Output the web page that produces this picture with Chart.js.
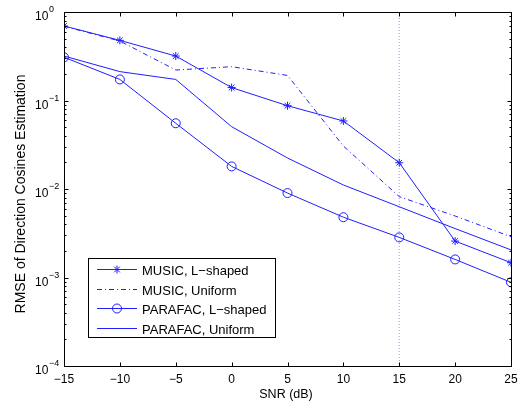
<!DOCTYPE html>
<html>
<head>
<meta charset="utf-8">
<script src="https://cdn.jsdelivr.net/npm/chart.js@4/dist/chart.umd.min.js"></script>
<style>
  html, body { margin: 0; padding: 0; background: #fff; }
</style>
</head>
<body>
<canvas id="rmseChart" width="524" height="405"></canvas>
<script>
// data
const snr = [-15, -10, -5, 0, 5, 10, 15, 20, 25];
const musicL = [0.695, 0.478, 0.318, 0.140, 0.0873, 0.0587, 0.0198, 0.00258, 0.00147];
const musicU = [0.69, 0.47, 0.221, 0.241, 0.192, 0.0306, 0.0082, 0.00495, 0.00289];
const parafacL = [0.308, 0.173, 0.0553, 0.018, 0.009, 0.0048, 0.00284, 0.0016, 0.000883];
const parafacU = [0.318, 0.212, 0.173, 0.0506, 0.0224, 0.0111, 0.0063, 0.00357, 0.00205];
const xTicks = [-15, -10, -5, 0, 5, 10, 15, 20, 25];
const yExps = [-4, -3, -2, -1, 0];
const markLine = 15; // vertical dotted line

const FONT = "'Liberation Sans', Arial, Helvetica, sans-serif";
const BLUE = "rgb(30,30,255)";

function pts(vals) {
  return snr.map((x, i) => ({ x: x, y: vals[i] }));
}

// box, inward ticks, labels, legend (matlab look)
const matlabAxes = {
  id: "matlabAxes",
  afterDraw(chart) {
    const ctx = chart.ctx;
    const a = chart.chartArea;
    const xs = chart.scales.x;
    const ys = chart.scales.y;
    const L = Math.round(a.left) + 0.5, R = Math.round(a.right) + 0.5;
    const T = Math.round(a.top) + 0.5, B = Math.round(a.bottom) + 0.5;
    ctx.save();
    ctx.strokeStyle = "#000";
    ctx.lineWidth = 1;
    ctx.strokeRect(L, T, R - L, B - T);

    ctx.beginPath();
    xTicks.forEach(v => {
      const px = Math.round(xs.getPixelForValue(v)) + 0.5;
      ctx.moveTo(px, B); ctx.lineTo(px, B - 4);
      ctx.moveTo(px, T); ctx.lineTo(px, T + 4);
    });
    yExps.forEach(e => {
      const py = Math.round(ys.getPixelForValue(Math.pow(10, e))) + 0.5;
      ctx.moveTo(L, py); ctx.lineTo(L + 4, py);
      ctx.moveTo(R, py); ctx.lineTo(R - 4, py);
      if (e < 0) {
        for (let m = 2; m <= 9; m++) {
          const pm = Math.round(ys.getPixelForValue(m * Math.pow(10, e))) + 0.5;
          ctx.moveTo(L, pm); ctx.lineTo(L + 2, pm);
          ctx.moveTo(R, pm); ctx.lineTo(R - 2, pm);
        }
      }
    });
    ctx.stroke();

    ctx.fillStyle = "#000";
    ctx.font = "12px " + FONT;
    ctx.textAlign = "center";
    ctx.textBaseline = "alphabetic";
    xTicks.forEach(v => {
      const px = xs.getPixelForValue(v);
      ctx.fillText(String(v).replace("-", "\u2212"), px, 383);
    });

    yExps.forEach(e => {
      const py = ys.getPixelForValue(Math.pow(10, e));
      ctx.textAlign = "left";
      ctx.font = "12px " + FONT;
      ctx.fillText("10", 35, py + 8);
      ctx.font = "9px " + FONT;
      ctx.fillText(String(e).replace("-", "\u2212"), 49, py);
    });

    ctx.font = "12.5px " + FONT;
    ctx.textAlign = "center";
    ctx.fillText("SNR (dB)", 286, 398);
    ctx.save();
    ctx.translate(25, 194);
    ctx.rotate(-Math.PI / 2);
    ctx.font = "14px " + FONT;
    ctx.fillText("RMSE of Direction Cosines Estimation", 0, 0);
    ctx.restore();

    // legend
    const bx = 88.5, by = 258.5, bw = 187, bh = 79;
    ctx.fillStyle = "#fff";
    ctx.fillRect(bx, by, bw, bh);
    ctx.strokeStyle = "#000";
    ctx.strokeRect(bx, by, bw, bh);
    const items = chart.data.datasets.filter(d => d.label);
    items.forEach((d, i) => {
      const y = Math.round(269 + i * 19.5) + 0.5;
      ctx.strokeStyle = d.borderColor;
      ctx.lineWidth = 1;
      ctx.setLineDash(d.borderDash || []);
      ctx.beginPath();
      ctx.moveTo(97, y); ctx.lineTo(137, y);
      ctx.stroke();
      ctx.setLineDash([]);
      if (d.pointRadius > 0) {
        ctx.fillStyle = "rgba(0,0,0,0)";
        Chart.helpers.drawPoint(ctx, {
          pointStyle: d.pointStyle, radius: d.pointRadius,
          borderWidth: 1, rotation: 0
        }, 117, y);
      }
      ctx.fillStyle = "#000";
      ctx.font = "13px " + FONT;
      ctx.textAlign = "left";
      ctx.fillText(d.label, 142, y + 5);
    });
    ctx.restore();
  }
};

const line = (label, vals, extra) => Object.assign({
  label: label,
  data: pts(vals),
  borderColor: BLUE,
  backgroundColor: "rgba(0,0,0,0)",
  borderWidth: 1,
  pointRadius: 0,
  pointBorderWidth: 1,
  tension: 0
}, extra);

new Chart(document.getElementById("rmseChart"), {
  type: "line",
  data: {
    datasets: [
      line("MUSIC, L\u2212shaped", musicL, { pointStyle: "star", pointRadius: 4 }),
      line("MUSIC, Uniform", musicU, { borderDash: [5, 3, 1, 3] }),
      line("PARAFAC, L\u2212shaped", parafacL, { pointStyle: "circle", pointRadius: 4.5 }),
      line("PARAFAC, Uniform", parafacU, {}),
      {
        label: "",
        data: [{ x: markLine, y: 1 }, { x: markLine, y: 1e-4 }],
        borderColor: "rgb(150,150,235)",
        borderWidth: 1,
        borderDash: [1, 2],
        pointRadius: 0
      }
    ]
  },
  options: {
    responsive: false,
    animation: false,
    layout: { padding: { left: 64, top: 12, right: 13, bottom: 39 } },
    plugins: { legend: { display: false }, tooltip: { enabled: false } },
    scales: {
      x: { type: "linear", min: -15, max: 25, display: false },
      y: { type: "logarithmic", min: 1e-4, max: 1, display: false }
    }
  },
  plugins: [matlabAxes]
});
</script>
</body>
</html>
